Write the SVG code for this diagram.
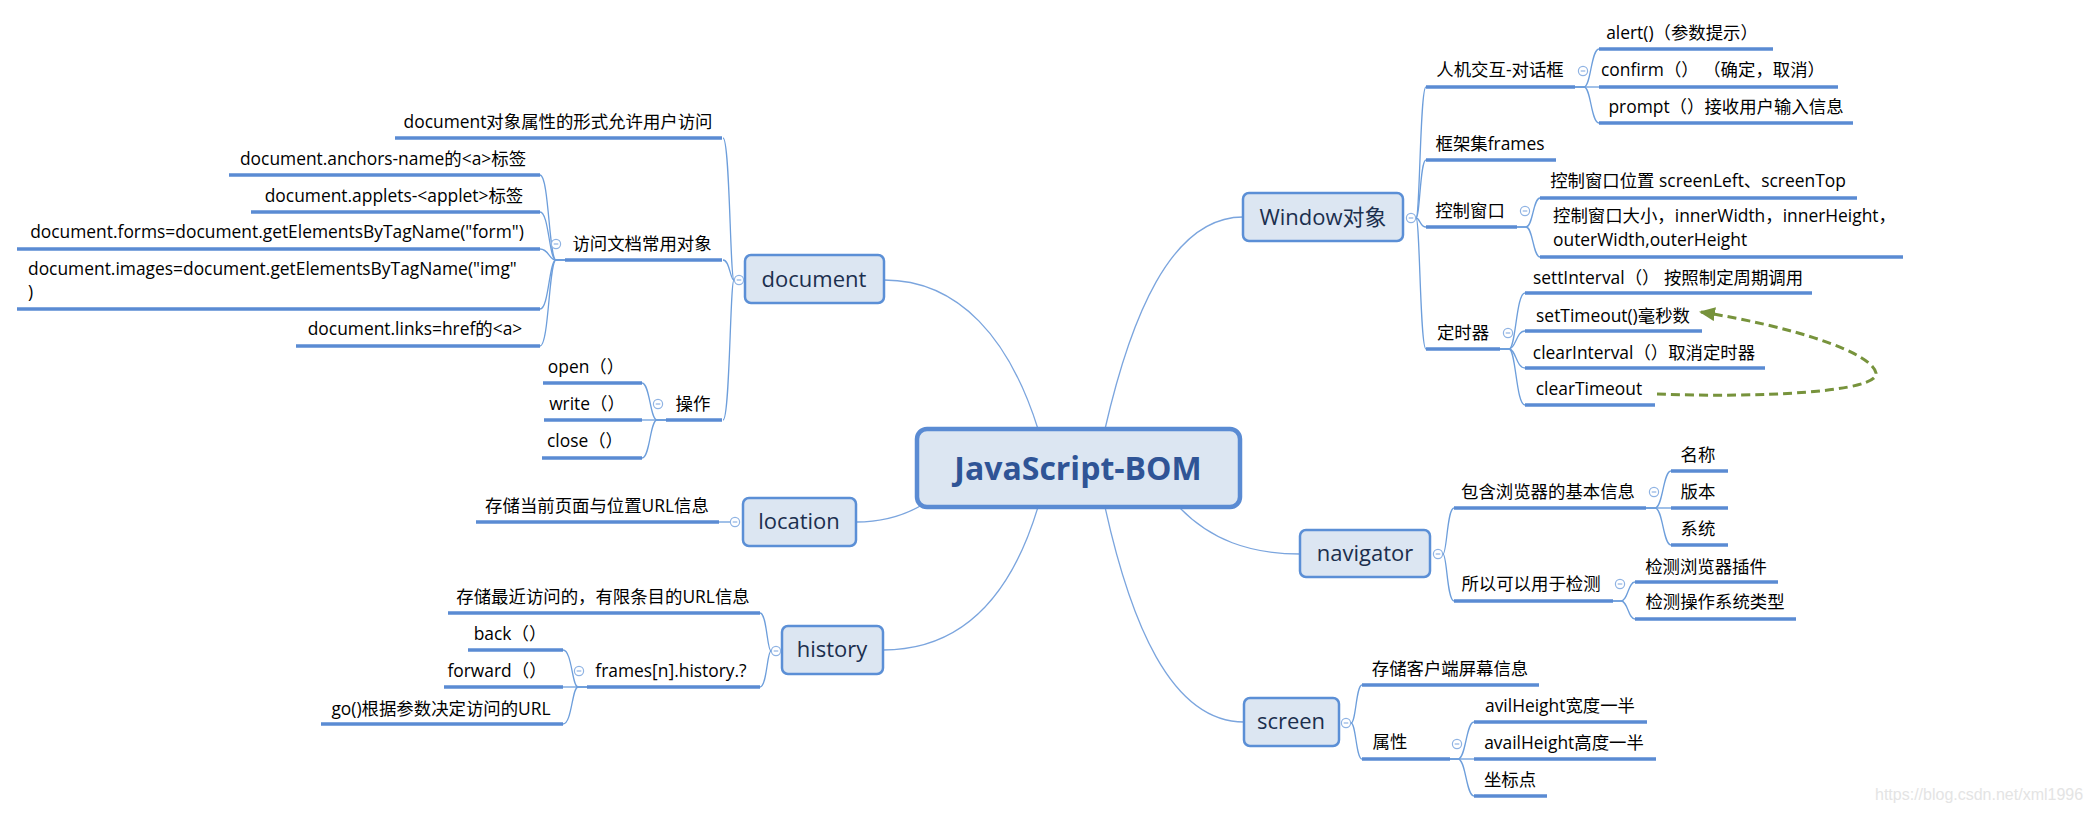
<svg xmlns="http://www.w3.org/2000/svg" xmlns:xlink="http://www.w3.org/1999/xlink" width="2090" height="813" viewBox="0 0 2090 813">
<style>
.bg{fill:#ffffff}
.box{fill:#DCE6F2;stroke:#5B8FD6;stroke-width:2.5}
.root{fill:#DCE6F2;stroke:#5A8BD3;stroke-width:4.5}
.rt{font-family:"Open Sans","Noto Sans CJK SC",sans-serif;font-weight:bold;font-size:32px;fill:#2F5496;text-anchor:middle}
.mt{font-family:"Open Sans","Noto Sans CJK SC",sans-serif;font-size:22px;fill:#1B2F4E;text-anchor:middle}
.t{font-family:"Open Sans","Noto Sans CJK SC",sans-serif;font-size:17.4px;fill:#000;text-anchor:middle}
.ts{font-family:"Open Sans","Noto Sans CJK SC",sans-serif;font-size:17.4px;fill:#000;text-anchor:start}
.ul{stroke:#5A8BD3;stroke-width:3.5;fill:none}
.ln{stroke:#6D9EDB;stroke-width:1.3;fill:none}
.mc{stroke:#7BA5DE;stroke-width:1.3;fill:none}
.dash{stroke:#77933C;stroke-width:3;fill:none;stroke-dasharray:9 5}
.wm{font-family:"Liberation Sans",Arial,sans-serif;font-size:16px;fill:#E4E4E4}
</style>
<defs>
<g id="cm"><circle r="4.6" fill="#ffffff" stroke="#8FB3E3" stroke-width="1.2"/><line x1="-2.3" y1="0" x2="2.3" y2="0" stroke="#8FB3E3" stroke-width="1.2"/></g>
<marker id="ga" markerUnits="userSpaceOnUse" viewBox="0 0 16 14" refX="14" refY="7" markerWidth="16" markerHeight="14" orient="auto"><path d="M0,0 L16,7 L0,14 z" fill="#77933C"/></marker>
</defs>
<rect class="bg" x="0" y="0" width="2090" height="813"/>

<g id="connectors">
<path class="mc" d="M884 280 C960 280 1010 340 1038 429"/>
<path class="mc" d="M1105 429 C1130 320 1170 217 1243 217"/>
<path class="mc" d="M1178 506 C1210 540 1250 554 1300 554"/>
<path class="mc" d="M1105 507 C1130 620 1170 722 1244 722"/>
<path class="mc" d="M856 522 C885 522 905 515 922 505"/>
<path class="mc" d="M1038 507 C1010 600 960 650 883 650"/>
<path class="ln" d="M734 280 C730 280 730 138 723 138"/>
<path class="ln" d="M734 280 C730 280 730 260 723 260"/>
<path class="ln" d="M734 280 C730 280 730 420 723 420"/>
<path class="ln" d="M565 260 L556 260 C549 260 549 175 540 175"/>
<path class="ln" d="M565 260 L556 260 C549 260 549 212 540 212"/>
<path class="ln" d="M565 260 L556 260 C549 260 549 249 540 249"/>
<path class="ln" d="M565 260 L556 260 C549 260 549 309 540 309"/>
<path class="ln" d="M565 260 L556 260 C549 260 549 346 540 346"/>
<path class="ln" d="M666 420 L657 420 C650 420 650 383 642 383"/>
<path class="ln" d="M666 420 L642 420"/>
<path class="ln" d="M666 420 L657 420 C650 420 650 458 642 458"/>
<path class="ln" d="M731 522 L719 522"/>
<path class="ln" d="M771 651 C767 651 767 613 760 613"/>
<path class="ln" d="M771 651 C767 651 767 687 760 687"/>
<path class="ln" d="M587 687 L578 687 C572 687 572 650 563 650"/>
<path class="ln" d="M587 687 L563 687"/>
<path class="ln" d="M587 687 L578 687 C572 687 572 724 563 724"/>
<path class="ln" d="M1416 218 C1420 218 1420 87 1426 87"/>
<path class="ln" d="M1416 218 C1420 218 1420 160 1426 160"/>
<path class="ln" d="M1416 218 C1420 218 1420 227 1426 227"/>
<path class="ln" d="M1416 218 C1420 218 1420 349 1426 349"/>
<path class="ln" d="M1575 87 L1584 87 C1591 87 1591 49 1599 49"/>
<path class="ln" d="M1575 87 L1599 87"/>
<path class="ln" d="M1575 87 L1584 87 C1591 87 1591 123 1599 123"/>
<path class="ln" d="M1517 227 L1526 227 C1533 227 1533 198 1540 198"/>
<path class="ln" d="M1517 227 L1526 227 C1533 227 1533 257 1540 257"/>
<path class="ln" d="M1500 349 L1509 349 C1516 349 1516 293 1525 293"/>
<path class="ln" d="M1500 349 L1509 349 C1516 349 1516 331 1525 331"/>
<path class="ln" d="M1500 349 L1509 349 C1516 349 1516 368 1525 368"/>
<path class="ln" d="M1500 349 L1509 349 C1516 349 1516 405 1525 405"/>
<path class="ln" d="M1443 554 C1447 554 1447 508 1454 508"/>
<path class="ln" d="M1443 554 C1447 554 1447 601 1454 601"/>
<path class="ln" d="M1646 508 L1655 508 C1663 508 1663 471 1671 471"/>
<path class="ln" d="M1646 508 L1671 508"/>
<path class="ln" d="M1646 508 L1655 508 C1663 508 1663 545 1671 545"/>
<path class="ln" d="M1613 601 L1621 601 C1628 601 1628 582 1635 582"/>
<path class="ln" d="M1613 601 L1621 601 C1628 601 1628 619 1635 619"/>
<path class="ln" d="M1351 723 C1356 723 1356 685 1362 685"/>
<path class="ln" d="M1351 723 C1356 723 1356 759 1362 759"/>
<path class="ln" d="M1450 759 L1458 759 C1466 759 1466 722 1474 722"/>
<path class="ln" d="M1450 759 L1474 759"/>
<path class="ln" d="M1450 759 L1458 759 C1466 759 1466 796 1474 796"/>
<path class="dash" d="M1657 394 C1760 398 1880 392 1876 373 C1872 352 1790 326 1701 312" marker-end="url(#ga)"/>
</g>

<g id="n-root">
<rect class="root" x="917" y="429" width="323" height="78" rx="10"/>
<text class="rt" x="1078" y="480">JavaScript-BOM</text>
</g>

<g id="n-document">
<rect class="box" x="745" y="255" width="139" height="48" rx="6"/>
<text class="mt" x="814" y="287">document</text>
<use xlink:href="#cm" x="739" y="280"/>
</g>
<g id="n-doc-attr"><line class="ul" x1="395" y1="138" x2="722" y2="138"/><text class="t" x="558" y="128">document对象属性的形式允许用户访问</text></g>
<g id="n-doc-common"><line class="ul" x1="565" y1="260" x2="722" y2="260"/><text class="t" x="642" y="250">访问文档常用对象</text><use xlink:href="#cm" x="556" y="244"/></g>
<g id="n-anchors"><line class="ul" x1="229" y1="175" x2="540" y2="175"/><text class="t" x="383" y="165">document.anchors-name的&lt;a&gt;标签</text></g>
<g id="n-applets"><line class="ul" x1="251" y1="212" x2="540" y2="212"/><text class="t" x="394" y="202">document.applets-&lt;applet&gt;标签</text></g>
<g id="n-forms"><line class="ul" x1="17" y1="249" x2="540" y2="249"/><text class="t" x="277" y="238">document.forms=document.getElementsByTagName("form")</text></g>
<g id="n-images"><line class="ul" x1="17" y1="309" x2="540" y2="309"/><text class="ts" x="28" y="275">document.images=document.getElementsByTagName("img"</text><text class="ts" x="28" y="298">)</text></g>
<g id="n-links"><line class="ul" x1="296" y1="346" x2="540" y2="346"/><text class="t" x="415" y="335">document.links=href的&lt;a&gt;</text></g>
<g id="n-ops"><line class="ul" x1="666" y1="420" x2="722" y2="420"/><text class="t" x="693" y="410">操作</text><use xlink:href="#cm" x="658" y="404"/></g>
<g id="n-open"><line class="ul" x1="543" y1="383" x2="642" y2="383"/><text class="t" x="586" y="373">open（）</text></g>
<g id="n-write"><line class="ul" x1="544" y1="420" x2="642" y2="420"/><text class="t" x="587" y="410">write（）</text></g>
<g id="n-close"><line class="ul" x1="542" y1="458" x2="642" y2="458"/><text class="t" x="585" y="447">close（）</text></g>

<g id="n-location">
<rect class="box" x="743" y="498" width="113" height="48" rx="6"/>
<text class="mt" x="799" y="529">location</text>
<use xlink:href="#cm" x="735" y="522"/>
</g>
<g id="n-loc-info"><line class="ul" x1="476" y1="522" x2="719" y2="522"/><text class="t" x="597" y="512">存储当前页面与位置URL信息</text></g>

<g id="n-history">
<rect class="box" x="782" y="626" width="101" height="48" rx="6"/>
<text class="mt" x="832" y="657">history</text>
<use xlink:href="#cm" x="776" y="651"/>
</g>
<g id="n-hist-info"><line class="ul" x1="448" y1="613" x2="760" y2="613"/><text class="t" x="603" y="603">存储最近访问的，有限条目的URL信息</text></g>
<g id="n-frames-hist"><line class="ul" x1="587" y1="687" x2="760" y2="687"/><text class="t" x="671" y="677">frames[n].history.?</text><use xlink:href="#cm" x="579" y="671"/></g>
<g id="n-back"><line class="ul" x1="468" y1="650" x2="563" y2="650"/><text class="t" x="510" y="640">back（）</text></g>
<g id="n-forward"><line class="ul" x1="444" y1="687" x2="563" y2="687"/><text class="t" x="497" y="677">forward（）</text></g>
<g id="n-go"><line class="ul" x1="321" y1="724" x2="563" y2="724"/><text class="t" x="441" y="715">go()根据参数决定访问的URL</text></g>

<g id="n-window">
<rect class="box" x="1243" y="193" width="160" height="48" rx="6"/>
<text class="mt" x="1323" y="225">Window对象</text>
<use xlink:href="#cm" x="1411" y="218"/>
</g>
<g id="n-dialog"><line class="ul" x1="1426" y1="87" x2="1575" y2="87"/><text class="t" x="1500" y="76">人机交互-对话框</text><use xlink:href="#cm" x="1583" y="71"/></g>
<g id="n-alert"><line class="ul" x1="1599" y1="49" x2="1773" y2="49"/><text class="t" x="1682" y="39">alert()（参数提示）</text></g>
<g id="n-confirm"><line class="ul" x1="1599" y1="87" x2="1838" y2="87"/><text class="t" x="1713" y="76">confirm（） （确定，取消）</text></g>
<g id="n-prompt"><line class="ul" x1="1599" y1="123" x2="1853" y2="123"/><text class="t" x="1726" y="113">prompt（）接收用户输入信息</text></g>
<g id="n-frames"><line class="ul" x1="1426" y1="160" x2="1556" y2="160"/><text class="t" x="1490" y="150">框架集frames</text></g>
<g id="n-winctl"><line class="ul" x1="1426" y1="227" x2="1517" y2="227"/><text class="t" x="1470" y="217">控制窗口</text><use xlink:href="#cm" x="1525" y="211"/></g>
<g id="n-winpos"><line class="ul" x1="1540" y1="198" x2="1857" y2="198"/><text class="t" x="1698" y="187">控制窗口位置 screenLeft、screenTop</text></g>
<g id="n-winsize"><line class="ul" x1="1540" y1="257" x2="1903" y2="257"/><text class="ts" x="1553" y="222">控制窗口大小，innerWidth，innerHeight，</text><text class="ts" x="1553" y="246">outerWidth,outerHeight</text></g>
<g id="n-timer"><line class="ul" x1="1426" y1="349" x2="1500" y2="349"/><text class="t" x="1463" y="339">定时器</text><use xlink:href="#cm" x="1508" y="333"/></g>
<g id="n-setint"><line class="ul" x1="1525" y1="293" x2="1812" y2="293"/><text class="t" x="1668" y="284">settInterval（） 按照制定周期调用</text></g>
<g id="n-settimeout"><line class="ul" x1="1525" y1="331" x2="1702" y2="331"/><text class="t" x="1613" y="322">setTimeout()毫秒数</text></g>
<g id="n-clearint"><line class="ul" x1="1525" y1="368" x2="1765" y2="368"/><text class="t" x="1644" y="359">clearInterval（）取消定时器</text></g>
<g id="n-cleartimeout"><line class="ul" x1="1525" y1="405" x2="1655" y2="405"/><text class="t" x="1589" y="395">clearTimeout</text></g>

<g id="n-navigator">
<rect class="box" x="1300" y="530" width="130" height="47" rx="6"/>
<text class="mt" x="1365" y="561">navigator</text>
<use xlink:href="#cm" x="1438" y="554"/>
</g>
<g id="n-browser"><line class="ul" x1="1454" y1="508" x2="1646" y2="508"/><text class="t" x="1548" y="498">包含浏览器的基本信息</text><use xlink:href="#cm" x="1654" y="492"/></g>
<g id="n-name"><line class="ul" x1="1671" y1="471" x2="1728" y2="471"/><text class="t" x="1698" y="461">名称</text></g>
<g id="n-version"><line class="ul" x1="1671" y1="508" x2="1728" y2="508"/><text class="t" x="1698" y="498">版本</text></g>
<g id="n-system"><line class="ul" x1="1671" y1="545" x2="1728" y2="545"/><text class="t" x="1698" y="535">系统</text></g>
<g id="n-detect"><line class="ul" x1="1454" y1="601" x2="1613" y2="601"/><text class="t" x="1531" y="590">所以可以用于检测</text><use xlink:href="#cm" x="1620" y="584"/></g>
<g id="n-plugin"><line class="ul" x1="1635" y1="582" x2="1778" y2="582"/><text class="t" x="1706" y="573">检测浏览器插件</text></g>
<g id="n-ostype"><line class="ul" x1="1635" y1="619" x2="1796" y2="619"/><text class="t" x="1715" y="608">检测操作系统类型</text></g>

<g id="n-screen">
<rect class="box" x="1244" y="698" width="95" height="48" rx="6"/>
<text class="mt" x="1291" y="729">screen</text>
<use xlink:href="#cm" x="1346" y="723"/>
</g>
<g id="n-scr-info"><line class="ul" x1="1362" y1="685" x2="1539" y2="685"/><text class="t" x="1450" y="675">存储客户端屏幕信息</text></g>
<g id="n-attr"><line class="ul" x1="1362" y1="759" x2="1450" y2="759"/><text class="t" x="1390" y="748">属性</text><use xlink:href="#cm" x="1457" y="744"/></g>
<g id="n-avil"><line class="ul" x1="1474" y1="722" x2="1647" y2="722"/><text class="t" x="1560" y="712">avilHeight宽度一半</text></g>
<g id="n-avail"><line class="ul" x1="1474" y1="759" x2="1656" y2="759"/><text class="t" x="1564" y="749">availHeight高度一半</text></g>
<g id="n-coord"><line class="ul" x1="1474" y1="796" x2="1547" y2="796"/><text class="t" x="1510" y="786">坐标点</text></g>

<text class="wm" x="1875" y="800">https://blog.csdn.net/xml1996</text>
</svg>
